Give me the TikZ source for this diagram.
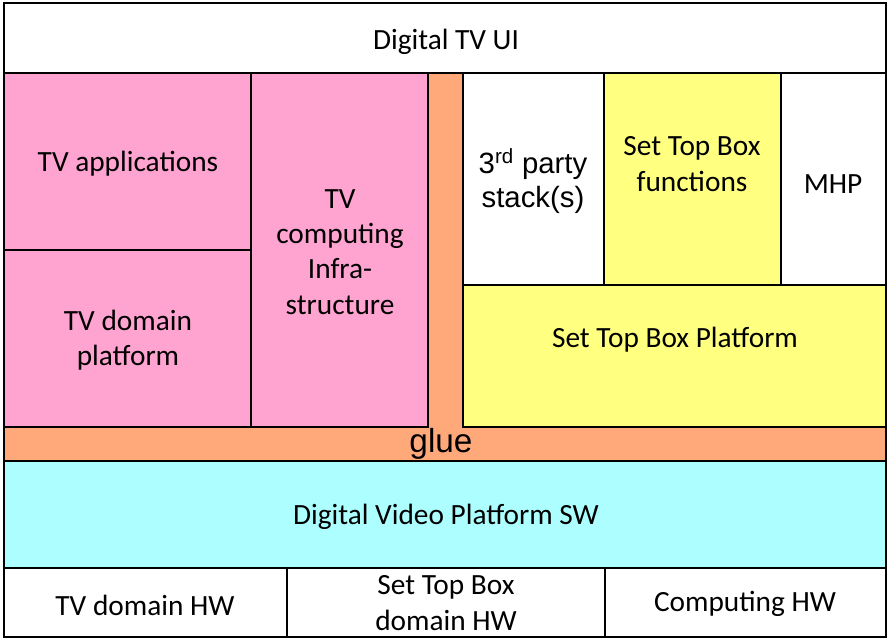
\documentclass[tikz,border=0pt]{standalone}
\usepackage{fontspec}
\setmainfont{Carlito}
\newfontfamily\arialfont{Liberation Sans}
\definecolor{tvpink}{RGB}{255,163,209}
\definecolor{gluecol}{RGB}{255,169,122}
\definecolor{stbyellow}{RGB}{255,255,128}
\definecolor{dvpcyan}{RGB}{173,255,255}
\begin{document}
\begin{tikzpicture}[%
        x=0.75pt, y=-0.75pt,
        layer/.style={draw=black, line width=1.4pt},
        txt/.style={align=center, font=\fontsize{22}{26.5}\selectfont},
        atxt/.style={align=center, font=\arialfont\fontsize{22}{26}\selectfont}
    ]
        \useasboundingbox (0,0) rectangle (887,638);

        % glue, drawn first so the boxes sit on top of it
        \draw [layer, fill=gluecol] (428,73) -- (463,73) -- (463,427)
            -- (886,427) -- (886,461) -- (4,461) -- (4,427) -- (428,427) -- cycle;

        % top and bottom bands
        \draw [layer, fill=white] (4,3) rectangle (886,73);
        \draw [layer, fill=dvpcyan] (4,461) rectangle (886,568);
        \draw [layer, fill=white] (4,568) rectangle (287,637);
        \draw [layer, fill=white] (287,568) rectangle (605,637);
        \draw [layer, fill=white] (605,568) rectangle (886,637);

        % TV side
        \draw [layer, fill=tvpink] (4,73) rectangle (251,250);
        \draw [layer, fill=tvpink] (4,250) rectangle (251,427);
        \draw [layer, fill=tvpink] (251,73) rectangle (428,427);

        % set top box side
        \draw [layer, fill=white] (463,73) rectangle (604,285);
        \draw [layer, fill=stbyellow] (604,73) rectangle (781,285);
        \draw [layer, fill=white] (781,73) rectangle (886,285);
        \draw [layer, fill=stbyellow] (463,285) rectangle (886,427);

        \node [txt] (ui) at (446,42) {Digital TV UI};
        \node [txt] (tvapps) at (128,164) {TV applications};
        \node [txt] (tvdomain) at (128,340) {TV domain\\platform};
        \node [txt] (tvinfra) at (340,252) {TV\\computing\\Infra-\\structure};
        \node [atxt] (thirdparty) at (533,181) {3\textsuperscript{rd} party\\stack(s)};
        \node [txt] (stbfunc) at (692,164) {Set Top Box\\functions};
        \node [txt] (mhp) at (833,184) {MHP};
        \node [txt] (stbplat) at (675,340) {Set Top Box Platform};
        \node [atxt, font=\arialfont\fontsize{25}{30}\selectfont] (glue) at (441,444) {glue};
        \node [txt] (dvpsw) at (446,517) {Digital Video Platform SW};
        \node [txt] (tvhw) at (145,605) {TV domain HW};
        \node [txt] (stbhw) at (446,603) {Set Top Box\\domain HW};
        \node [txt] (comphw) at (745,604) {Computing HW};
\end{tikzpicture}
\end{document}
